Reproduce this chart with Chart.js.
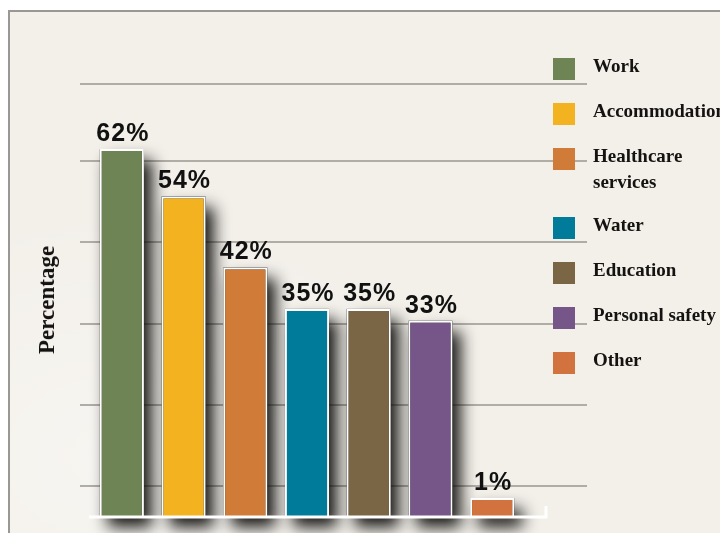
<!DOCTYPE html>
<html>
<head>
<meta charset="utf-8">
<script src="https://cdn.jsdelivr.net/npm/chart.js@4.4.1/dist/chart.umd.min.js"></script>
<style>
  html, body { margin: 0; padding: 0; background: #fff; }
  #wrap { position: relative; width: 720px; height: 533px; overflow: hidden; background: #fff; }
  #panel {
    position: absolute; left: 8px; top: 10px; right: -4px; bottom: -4px;
    border-left: 2px solid #9a9794; border-top: 2px solid #9a9794;
    background:
      radial-gradient(ellipse at 15% 85%, rgba(255,255,255,0.35), transparent 40%),
      #f3f0ea;
  }
  #chart { position: absolute; left: 0; top: 0; }
  #yTitle {
    position: absolute; left: 47px; top: 300px;
    transform: translate(-50%, -50%) rotate(-90deg);
    font: bold 23px "Liberation Serif", serif; color: #141210; white-space: nowrap;
  }
  #legend { position: absolute; left: 553px; top: 58px; }
  .item { display: flex; align-items: flex-start; height: 22px; margin-bottom: 23px; }
  .swatch { width: 22px; height: 22px; flex: none; }
  .label {
    margin-left: 18px; margin-top: -5px; white-space: nowrap;
    font: bold 19px/26px "Liberation Serif", serif; color: #151311;
  }
</style>
</head>
<body>
<div id="wrap">
  <div id="panel"></div>
  <canvas id="chart" width="720" height="533"></canvas>
  <div id="yTitle">Percentage</div>
  <div id="legend"></div>
</div>
<script>
const categories = ['Work', 'Accommodation', ['Healthcare', 'services'], 'Water', 'Education', 'Personal safety', 'Other'];
const shares = [62, 54, 42, 35, 35, 33, 1];
const barColors = ['#6e8454', '#f3b320', '#d07b38', '#007b9a', '#7a6545', '#765589', '#d2733f'];
const gridLevels = [5, 18.7, 32.5, 46.3, 60, 73];
const axisMax = 73;

// legend on the right, one row per category (two-line names get a taller row)
const legendBox = document.getElementById('legend');
categories.forEach((name, i) => {
  const lines = [].concat(name);
  const row = document.createElement('div');
  row.className = 'item';
  row.style.height = (22 + 24 * (lines.length - 1)) + 'px';
  const sw = document.createElement('div');
  sw.className = 'swatch';
  sw.style.background = barColors[i];
  const txt = document.createElement('div');
  txt.className = 'label';
  txt.innerHTML = lines.join('<br>');
  row.appendChild(sw);
  row.appendChild(txt);
  legendBox.appendChild(row);
});

const backdrop = {
  id: 'backdrop',
  beforeDatasetsDraw(chart) {
    const { ctx, chartArea, scales: { y } } = chart;
    ctx.save();
    ctx.strokeStyle = '#b0aca6';
    ctx.lineWidth = 2;
    gridLevels.forEach(v => {
      const py = Math.round(y.getPixelForValue(v));
      ctx.beginPath();
      ctx.moveTo(chartArea.left - 11, py);
      ctx.lineTo(chartArea.right + 64, py);
      ctx.stroke();
    });
    // blurred drop shadow under each bar
    ctx.shadowColor = 'rgba(10,8,6,0.95)';
    ctx.shadowBlur = 16;
    ctx.shadowOffsetX = 8;
    ctx.shadowOffsetY = 11;
    ctx.fillStyle = '#333';
    chart.getDatasetMeta(0).data.forEach(bar => {
      const { x, y: top, base, width } = bar.getProps(['x', 'y', 'base', 'width'], true);
      ctx.fillRect(x - width / 2, top, width, base - top);
    });
    ctx.restore();
  },
  afterDatasetsDraw(chart) {
    const { ctx, chartArea } = chart;
    ctx.save();
    // white base line with a small end tick
    ctx.strokeStyle = '#ffffff';
    ctx.lineWidth = 3;
    ctx.beginPath();
    ctx.moveTo(chartArea.left - 2, chartArea.bottom + 1);
    ctx.lineTo(chartArea.right + 23, chartArea.bottom + 1);
    ctx.lineTo(chartArea.right + 23, chartArea.bottom - 10);
    ctx.stroke();
    // value labels
    ctx.fillStyle = '#111';
    ctx.font = 'bold 25px "Liberation Sans", sans-serif';
    ctx.letterSpacing = '1px';
    ctx.textAlign = 'center';
    ctx.textBaseline = 'alphabetic';
    chart.getDatasetMeta(0).data.forEach((bar, i) => {
      const { x, y } = bar.getProps(['x', 'y'], true);
      ctx.fillText(shares[i] + '%', x + 1, y - 8);
    });
    ctx.restore();
  }
};

new Chart(document.getElementById('chart'), {
  type: 'bar',
  data: {
    labels: categories,
    datasets: [{
      data: shares,
      backgroundColor: barColors,
      borderColor: '#ffffff',
      borderWidth: 2,
      borderSkipped: 'bottom',
      minBarLength: 18,
      categoryPercentage: 1,
      barPercentage: 0.715
    }]
  },
  options: {
    responsive: false,
    animation: false,
    layout: { padding: { left: 91, right: 197, top: 84, bottom: 17 } },
    scales: {
      x: { display: false },
      y: { display: false, min: 0, max: axisMax }
    },
    plugins: {
      legend: { display: false },
      tooltip: { enabled: false }
    }
  },
  plugins: [backdrop]
});
</script>
</body>
</html>
